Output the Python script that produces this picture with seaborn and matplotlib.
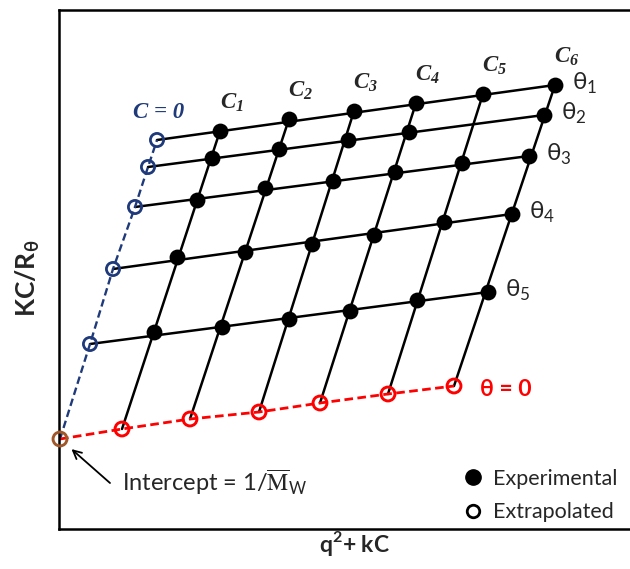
import numpy as np
import pandas as pd
import matplotlib
matplotlib.use("Agg")
import matplotlib.pyplot as plt
from matplotlib.lines import Line2D
import seaborn as sns

sns.set_theme(style="white")
plt.rcParams["font.family"] = ["Lato", "DejaVu Sans"]

nan = np.nan

# Zimm grid: concentrations C1..C6 (columns) and angles θ1..θ5 (rows)
conc_labels = ["1", "2", "3", "4", "5", "6"]
angle_labels = ["1", "2", "3", "4", "5"]

# measured KC/Rθ against q² + kC (arbitrary units)
x_exp = [
    [1.61, 2.30, 2.95, 3.57, 4.24, 4.96],
    [1.53, 2.20, 2.89, 3.50, nan, 4.85],
    [1.38, 2.06, 2.74, 3.36, 4.03, 4.70],
    [1.18, 1.86, 2.53, 3.15, 3.85, 4.53],
    [0.95, 1.63, 2.30, 2.91, 3.58, 4.29],
]
y_exp = [
    [3.98, 4.10, 4.18, 4.26, 4.35, 4.44],
    [3.71, 3.80, 3.89, 3.97, nan, 4.14],
    [3.29, 3.41, 3.48, 3.57, 3.66, 3.73],
    [2.72, 2.77, 2.85, 2.94, 3.07, 3.15],
    [1.97, 2.02, 2.10, 2.18, 2.29, 2.37],
]

# extrapolation to zero concentration (one per angle θ1..θ5)
x_c0 = [0.98, 0.89, 0.76, 0.54, 0.31]
y_c0 = [3.89, 3.62, 3.22, 2.60, 1.85]

# extrapolation to zero angle (one per concentration C1..C6)
x_t0 = [0.63, 1.31, 2.00, 2.61, 3.29, 3.95]
y_t0 = [1.00, 1.10, 1.17, 1.26, 1.35, 1.43]

# double extrapolation: intercept = 1/Mw
x_int, y_int = 0.01, 0.90

NAVY = "#1F3A7A"
RED = "#FF0000"
BROWN = "#A0582A"

W, H, DPI = 630, 569, 100
fig = plt.figure(figsize=(W / DPI, H / DPI), dpi=DPI)
ax = fig.add_axes([59 / W, 40 / H, 571 / W, 519 / H])
ax.set_xlim(0, 5.71)
ax.set_ylim(0, 5.19)

# ---- solid grid lines (constant angle rows, constant concentration columns)
segs = []
for i in range(len(angle_labels)):
    segs.append((f"row{i}", x_c0[i], y_c0[i]))
    segs.append((f"row{i}", x_exp[i][-1], y_exp[i][-1]))
for j in range(len(conc_labels)):
    segs.append((f"col{j}", x_t0[j], y_t0[j]))
    segs.append((f"col{j}", x_exp[0][j], y_exp[0][j]))
seg_df = pd.DataFrame(segs, columns=["seg", "x", "y"])
sns.lineplot(data=seg_df, x="x", y="y", units="seg", estimator=None, sort=False,
             color="black", lw=1.8, ax=ax, zorder=2)

# ---- dashed extrapolation lines
c0_df = pd.DataFrame({"x": [x_int] + x_c0[::-1], "y": [y_int] + y_c0[::-1]})
t0_df = pd.DataFrame({"x": [x_int] + x_t0, "y": [y_int] + y_t0})
sns.lineplot(data=c0_df, x="x", y="y", sort=False, color=NAVY, lw=1.7,
             dashes=(3.2, 1.7), ax=ax, zorder=2)
sns.lineplot(data=t0_df, x="x", y="y", sort=False, color=RED, lw=2.0,
             dashes=(3.1, 1.6), ax=ax, zorder=2)

# ---- markers
exp_df = pd.DataFrame({"x": np.ravel(x_exp), "y": np.ravel(y_exp)}).dropna()
sns.scatterplot(data=exp_df, x="x", y="y", s=130, color="black",
                edgecolor="black", linewidth=0, ax=ax, zorder=4)
sns.scatterplot(x=x_c0, y=y_c0, s=90, marker="o", facecolor="none",
                edgecolor=NAVY, linewidth=2.0, ax=ax, zorder=4)
sns.scatterplot(x=x_t0, y=y_t0, s=100, marker="o", facecolor="none",
                edgecolor=RED, linewidth=2.1, ax=ax, zorder=4)
sns.scatterplot(x=[x_int], y=[y_int], s=100, marker="o", facecolor="none",
                edgecolor=BROWN, linewidth=2.1, ax=ax, zorder=5, clip_on=False)

# ---- labels on the grid
serif_bi = dict(family="Liberation Serif", style="italic", weight="bold")
for j, c in enumerate(conc_labels):
    ax.annotate(f"C$_{{\\mathregular{{{c}}}}}$", xy=(x_exp[0][j], y_exp[0][j]),
                xytext=(12, 28), textcoords="offset pixels", ha="center",
                va="center", fontsize=16.5, **serif_bi)
for i, a in enumerate(angle_labels):
    ax.annotate(f"θ$_{{\\mathregular{{{a}}}}}$", xy=(x_exp[i][-1], y_exp[i][-1]),
                xytext=(17, 2), textcoords="offset pixels", ha="left",
                va="center", fontsize=17.5)
ax.annotate("C = 0", xy=(x_c0[0], y_c0[0]), xytext=(2, 28),
            textcoords="offset pixels", ha="center", va="center",
            fontsize=16.5, color=NAVY, **serif_bi)
ax.annotate("θ = 0", xy=(x_t0[-1], y_t0[-1]), xytext=(26, -4),
            textcoords="offset pixels", ha="left", va="center",
            fontsize=16.5, weight="bold", color=RED)

# ---- intercept callout
ax.annotate("", xy=(x_int, y_int), xytext=(0.51, 0.46),
            arrowprops=dict(arrowstyle="->", color="black", lw=1.3,
                            shrinkA=0, shrinkB=11, mutation_scale=15))
ax.text(0.63, 0.47, "Intercept = 1/$\\overline{\\mathrm{M}}_{\\mathregular{W}}$",
        ha="left", va="center", fontsize=17, math_fontfamily="stix")

# ---- legend
handles = [
    Line2D([], [], ls="none", marker="o", markersize=11, color="black"),
    Line2D([], [], ls="none", marker="o", markersize=9, mfc="none",
           mec="black", mew=2.0),
]
ax.legend(handles, ["Experimental", "Extrapolated"], loc="lower left",
          bbox_to_anchor=(0.706, 0.013), frameon=False, fontsize=15.5,
          borderpad=0, borderaxespad=0, handlelength=1.0, handletextpad=0.42,
          labelspacing=0.62)

# ---- axes frame and titles
ax.set_xticks([])
ax.set_yticks([])
for side in ["left", "top", "bottom"]:
    ax.spines[side].set_color("black")
    ax.spines[side].set_linewidth(1.8)
ax.spines["right"].set_visible(False)

ax.set_xlabel("q$^{\\mathregular{2}}$+ kC", fontsize=16.5, weight="bold", va="center")
ax.xaxis.set_label_coords(0.518, -0.027)
ax.set_ylabel("KC/R$_{\\mathregular{θ}}$", fontsize=19, weight="bold", va="center")
ax.yaxis.set_label_coords(-0.054, 0.4836)

fig.savefig("out.png", dpi=DPI)
